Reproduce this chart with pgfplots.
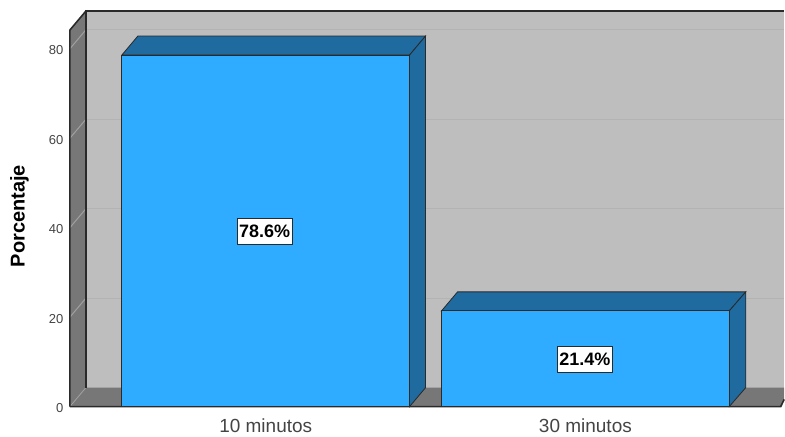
\documentclass[border=0pt]{standalone}
\usepackage{fontspec}
\setmainfont{Liberation Sans}
\usepackage{pgfplots}
\pgfplotsset{compat=1.18}
\definecolor{wall}{HTML}{BEBEBE}
\definecolor{wallgrid}{HTML}{B3B3B3}
\definecolor{sidewall}{HTML}{777777}
\definecolor{sidegrid}{HTML}{A0A0A0}
\definecolor{barfront}{HTML}{2FABFF}
\definecolor{bardark}{HTML}{1F6A9E}
\definecolor{edge}{HTML}{2A2A2A}
\definecolor{labelgray}{HTML}{444444}
\begin{document}
\begin{tikzpicture}[x=1pt,y=1pt]
% x runs in drawing units along the floor, y in percent; depth offset is (16, 4.24)
\begin{axis}[
  scale only axis, width=715pt, height=407pt,
  xmin=69.5, xmax=784.5, ymin=0, ymax=90.9,
  clip=false,
  axis x line*=bottom, axis y line*=left,
  axis line style={draw=none},
  major tick length=0pt,
  xtick={265.5,585.5}, xticklabels={10 minutos,30 minutos},
  ytick={0,20,40,60,80},
  /pgf/number format/assume math mode=true,
  x tick label style={font=\fontsize{19}{21}\selectfont, text=labelgray, yshift=-9pt},
  y tick label style={font=\fontsize{13}{15}\selectfont, text=labelgray, xshift=-3pt, yshift=-1.5pt},
  ylabel={\textbf{Porcentaje}},
  ylabel style={font=\fontsize{20}{22}\selectfont, at={(axis cs:19,42.6)}, anchor=center, rotate=0},
]
% page extent
\path (axis cs:-0.5,-6.25) rectangle (axis cs:784.5,90.9);
% back wall, side wall, floor
\addplot[fill=wall, draw=none] coordinates {(85.5,4.24) (784.5,4.24) (784.5,88.43) (85.5,88.43)} -- cycle;
\addplot[fill=sidewall, draw=none] coordinates {(69.5,0) (85.5,4.24) (85.5,88.43) (69.5,84.19)} -- cycle;
\addplot[fill=sidewall, draw=none] coordinates {(69.5,0) (85.5,4.24) (784.5,4.24) (784.5,1.6) (781,0)} -- cycle;
% gridlines on the walls
\pgfplotsinvokeforeach{20,40,60,80}{
  \addplot[wallgrid, line width=1.2pt] coordinates {(85.5,#1+4.24) (784.5,#1+4.24)};
  \addplot[sidegrid, line width=1pt] coordinates {(69.5,#1) (85.5,#1+4.24)};
}
\addplot[sidegrid, line width=0.8pt] coordinates {(69.5,0) (85.5,4.24)};
% wall outline
\addplot[edge, line width=1.6pt] coordinates {(85.5,4.24) (85.5,88.43) (784.5,88.43)};
\addplot[edge, line width=1.6pt] coordinates {(69.5,0) (69.5,84.19) (85.5,88.43)};
\addplot[edge, line width=1.6pt] coordinates {(69.5,0) (781,0) (784.5,1.6)};
% first bar: 78.6
\addplot[fill=bardark, draw=edge, line width=0.8pt] coordinates {(121.5,78.6) (137.5,82.84) (425.5,82.84) (409.5,78.6)} -- cycle;
\addplot[fill=bardark, draw=edge, line width=0.8pt] coordinates {(409.5,0) (425.5,4.24) (425.5,82.84) (409.5,78.6)} -- cycle;
\addplot[fill=barfront, draw=edge, line width=0.8pt] coordinates {(121.5,0) (409.5,0) (409.5,78.6) (121.5,78.6)} -- cycle;
% second bar: 21.4
\addplot[fill=bardark, draw=edge, line width=0.8pt] coordinates {(441.5,21.4) (457.5,25.64) (746,25.64) (729.5,21.4)} -- cycle;
\addplot[fill=bardark, draw=edge, line width=0.8pt] coordinates {(729.5,0) (746,4.24) (746,25.64) (729.5,21.4)} -- cycle;
\addplot[fill=barfront, draw=edge, line width=0.8pt] coordinates {(441.5,0) (729.5,0) (729.5,21.4) (441.5,21.4)} -- cycle;
% value labels
\node[fill=white, draw=edge, line width=0.8pt, inner xsep=2pt, inner ysep=0pt,
      minimum height=26pt, font=\fontsize{18}{20}\selectfont\bfseries] at (axis cs:264.5,39.2) {78.6\%};
\node[fill=white, draw=edge, line width=0.8pt, inner xsep=2pt, inner ysep=0pt,
      minimum height=26pt, font=\fontsize{18}{20}\selectfont\bfseries] at (axis cs:585,10.6) {21.4\%};
\end{axis}
\end{tikzpicture}
\end{document}
